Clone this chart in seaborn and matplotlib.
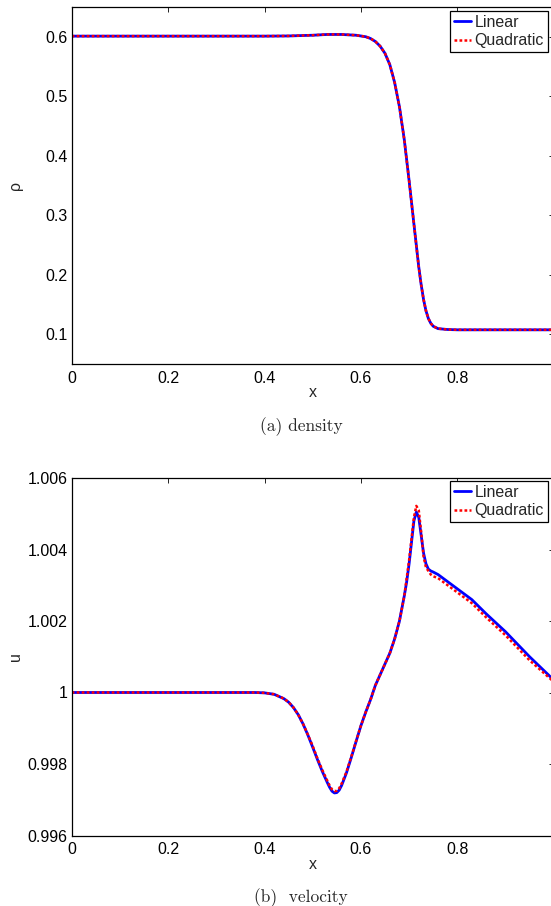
import numpy as np
import pandas as pd
import matplotlib
matplotlib.use("Agg")
import matplotlib.pyplot as plt
import seaborn as sns

# ---------------- data ----------------
x_rho = [0.0, 0.1, 0.2, 0.3, 0.4, 0.45, 0.5, 0.53, 0.56, 0.59, 0.61, 0.62, 0.63,
         0.64, 0.65, 0.66, 0.67, 0.68, 0.69, 0.70, 0.71, 0.72, 0.725, 0.73,
         0.735, 0.74, 0.745, 0.75, 0.76, 0.78, 0.8, 0.9, 1.0]
rho_linear = [0.601, 0.601, 0.601, 0.601, 0.601, 0.6013, 0.6025, 0.6038, 0.6038,
              0.6025, 0.600, 0.597, 0.592, 0.584, 0.572, 0.553, 0.523, 0.482,
              0.427, 0.358, 0.285, 0.213, 0.183, 0.158, 0.139, 0.126, 0.118,
              0.113, 0.109, 0.1075, 0.107, 0.107, 0.107]
rho_quadratic = [0.601, 0.601, 0.601, 0.601, 0.601, 0.6013, 0.6025, 0.6038, 0.6038,
                 0.6025, 0.600, 0.597, 0.592, 0.584, 0.572, 0.553, 0.523, 0.482,
                 0.427, 0.358, 0.285, 0.213, 0.183, 0.158, 0.139, 0.126, 0.118,
                 0.113, 0.109, 0.1075, 0.107, 0.107, 0.107]

x_u = [0.0, 0.1, 0.2, 0.3, 0.38, 0.40, 0.42, 0.44, 0.45, 0.46, 0.47, 0.48, 0.49,
       0.50, 0.51, 0.52, 0.53, 0.535, 0.54, 0.545, 0.55, 0.555, 0.56, 0.57, 0.58,
       0.59, 0.60, 0.61, 0.62, 0.63, 0.64, 0.65, 0.66, 0.67, 0.68, 0.69, 0.695,
       0.70, 0.705, 0.71, 0.715, 0.72, 0.725, 0.73, 0.735, 0.74, 0.745, 0.75,
       0.76, 0.78, 0.80, 0.83, 0.86, 0.90, 0.95, 1.0]
u_linear = [1.0, 1.0, 1.0, 1.0, 1.0, 0.99999, 0.99995, 0.99983, 0.99973, 0.99958,
            0.99938, 0.99912, 0.99881, 0.99847, 0.99812, 0.99779, 0.99749,
            0.99735, 0.99724, 0.99719, 0.9972, 0.99727, 0.9974, 0.99775, 0.99818,
            0.99863, 0.99907, 0.99945, 0.9998, 1.0002, 1.0005, 1.0008, 1.0011,
            1.0015, 1.0020, 1.0027, 1.0031, 1.0036, 1.0042, 1.0048, 1.00505,
            1.0049, 1.0044, 1.0039, 1.0036, 1.00345, 1.0034, 1.00337, 1.0033,
            1.0031, 1.0029, 1.0026, 1.0022, 1.0017, 1.0010, 1.00035]
u_quadratic = [1.0, 1.0, 1.0, 1.0, 1.0, 0.99999, 0.99995, 0.99983, 0.99973, 0.99958,
               0.99938, 0.99912, 0.99882, 0.9985, 0.99815, 0.99783, 0.99754,
               0.9974, 0.99729, 0.99724, 0.99725, 0.99732, 0.99745, 0.99778, 0.9982,
               0.99864, 0.99907, 0.99945, 0.9998, 1.0002, 1.0005, 1.0008, 1.0011,
               1.0015, 1.0020, 1.0027, 1.0032, 1.0037, 1.0043, 1.0049, 1.00522,
               1.0051, 1.0045, 1.0038, 1.0035, 1.0034, 1.0033, 1.00325, 1.0032,
               1.0030, 1.0028, 1.0025, 1.0021, 1.0016, 1.0009, 1.0003]

series_names = ["Linear", "Quadratic"]
x_ticks = [0, 0.2, 0.4, 0.6, 0.8, 1.0]
x_ticklabels = ["0", "0.2", "0.4", "0.6", "0.8", ""]  # "1" falls outside the picture
rho_ticks = [0.1, 0.2, 0.3, 0.4, 0.5, 0.6]
rho_ticklabels = ["0.1", "0.2", "0.3", "0.4", "0.5", "0.6"]
u_ticks = [0.996, 0.998, 1.0, 1.002, 1.004, 1.006]
u_ticklabels = ["0.996", "0.998", "1", "1.002", "1.004", "1.006"]
captions = ["(a) density", "(b)  velocity"]
ylabels = ["ρ", "u"]

# ---------------- style ----------------
sns.set_theme(style="white")
plt.rcParams["font.family"] = ["Liberation Sans", "DejaVu Sans"]
plt.rcParams["axes.edgecolor"] = "black"
plt.rcParams["axes.linewidth"] = 0.9
plt.rcParams["lines.solid_joinstyle"] = "round"
plt.rcParams["lines.dash_joinstyle"] = "round"

W, H = 551, 906
fig = plt.figure(figsize=(W / 100, H / 100), dpi=100)

left = 71.7 / W
width = (553.7 - 71.7) / W
ax_top = fig.add_axes([left, 1 - 363.7 / H, width, 356.7 / H])
ax_bot = fig.add_axes([left, 1 - 835.5 / H, width, 357.5 / H])

FS = 11.5

panels = [
    (ax_top, x_rho, rho_linear, rho_quadratic, (0.05, 0.65), rho_ticks, rho_ticklabels),
    (ax_bot, x_u, u_linear, u_quadratic, (0.996, 1.006), u_ticks, u_ticklabels),
]

for i, (ax, xs, ylin, yquad, ylim, yt, ytl) in enumerate(panels):
    df_lin = pd.DataFrame({"x": xs, "y": ylin})
    df_quad = pd.DataFrame({"x": xs, "y": yquad})
    sns.lineplot(data=df_lin, x="x", y="y", ax=ax, color=(0, 0, 1), lw=2.0,
                 label=series_names[0], estimator=None, sort=False)
    sns.lineplot(data=df_quad, x="x", y="y", ax=ax, color=(1, 0, 0), lw=1.8,
                 label=series_names[1], estimator=None, sort=False,
                 dashes=False)
    ax.lines[1].set_linestyle((0, (1.1, 0.9)))
    ax.set_xlim(0, 1)
    ax.set_ylim(*ylim)
    ax.set_xticks(x_ticks)
    ax.set_xticklabels(x_ticklabels)
    ax.set_yticks(yt)
    ax.set_yticklabels(ytl)
    ax.tick_params(direction="in", top=True, right=True, length=3.5, width=0.6,
                   labelsize=FS, colors="black", pad=3)
    ax.tick_params(axis="x", pad=5)
    ax.set_xlabel("x", fontsize=FS)
    ax.xaxis.set_label_coords(0.5, -28.5 / 357)
    ax.xaxis.label.set_va("center")
    ax.set_ylabel(ylabels[i], fontsize=FS)
    ax.yaxis.set_label_coords(-56.5 / 482, 0.5)
    ax.yaxis.label.set_va("center")
    for s in ax.spines.values():
        s.set_visible(True)
        s.set_color("black")
    ax.grid(False)

    # legend
    top_px = 11 if i == 0 else 481
    leg = ax.legend(loc="upper right", bbox_to_anchor=(547.7 / W, 1 - top_px / H),
                    bbox_transform=fig.transFigure, borderaxespad=0,
                    fontsize=FS, frameon=True, fancybox=False, handlelength=1.1,
                    handletextpad=0.2, borderpad=0.25, labelspacing=0.2)
    leg.get_frame().set_edgecolor("black")
    leg.get_frame().set_linewidth(0.9)
    leg.get_frame().set_alpha(1)

    # caption
    cap_y = 427 if i == 0 else 898
    fig.text(301 / W, 1 - cap_y / H, captions[i], ha="center", va="center",
             fontsize=12.5, family=["cmr10", "DejaVu Serif"])

fig.savefig("out.png", dpi=100)
